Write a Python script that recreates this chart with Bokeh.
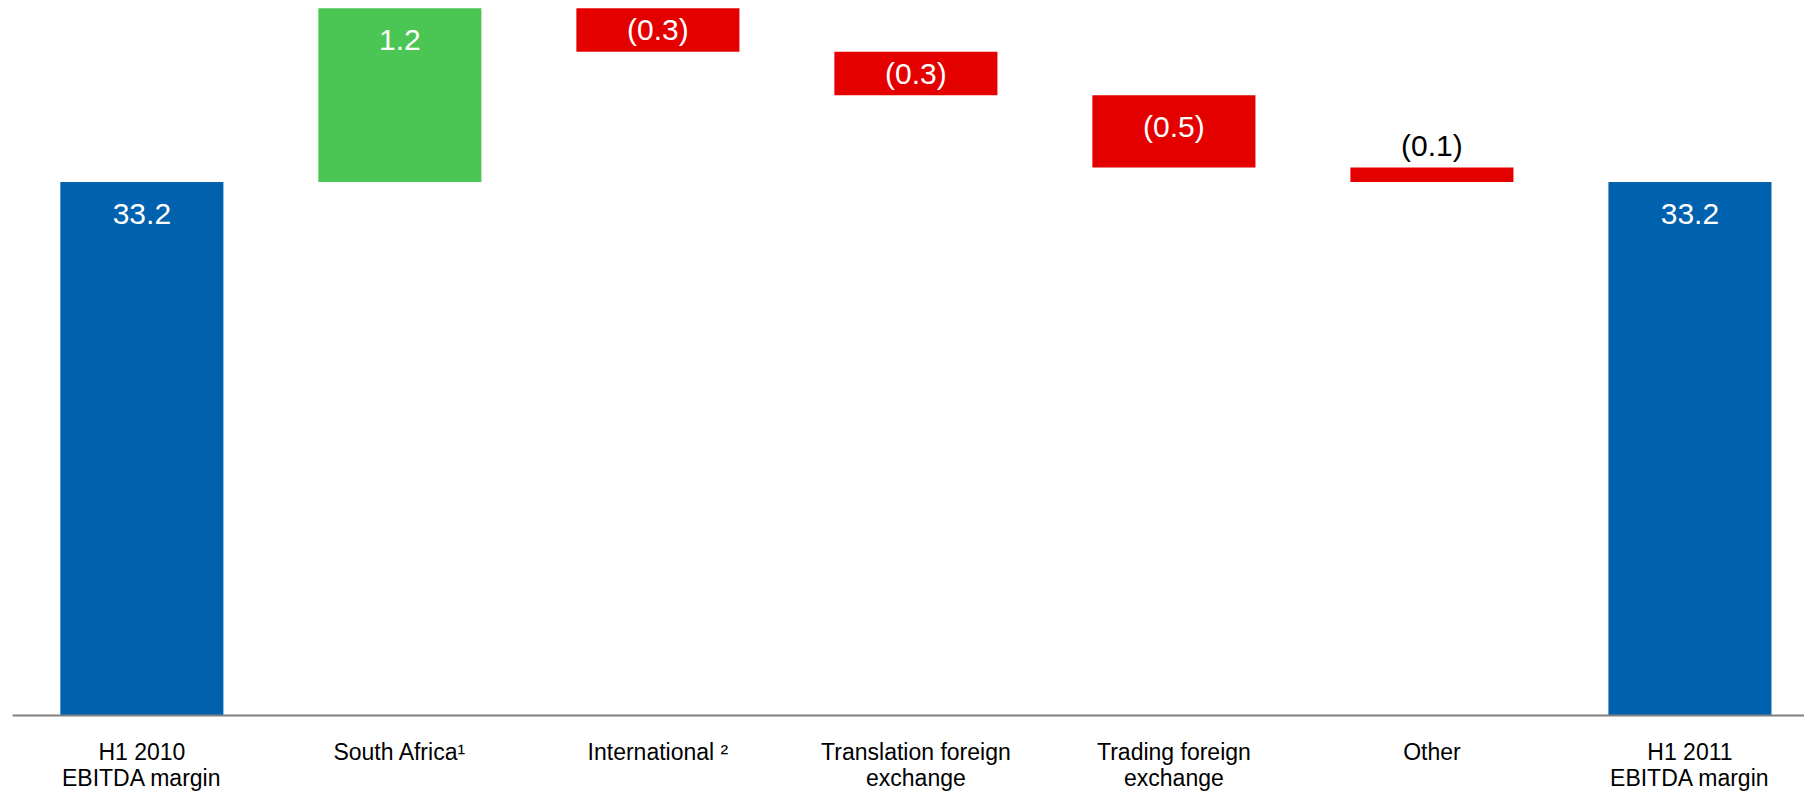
from bokeh.plotting import figure
from bokeh.models import ColumnDataSource, FixedTicker, Range1d
from bokeh.core.properties import value
from bokeh.embed import file_html
from bokeh.resources import INLINE

# ---- data ----
categories = [
    "H1 2010\nEBITDA margin",
    "South Africa\u00b9",
    "International \u00b2",
    "Translation foreign\nexchange",
    "Trading foreign\nexchange",
    "Other",
    "H1 2011\nEBITDA margin",
]
values = [33.2, 1.2, -0.3, -0.3, -0.5, -0.1, 33.2]
kinds = ["total", "delta", "delta", "delta", "delta", "delta", "total"]
value_labels = ["33.2", "1.2", "(0.3)", "(0.3)", "(0.5)", "(0.1)", "33.2"]

# ---- styling ----
BLUE = "#0061AE"
GREEN = "#4BC553"
RED = "#E50000"
FONT = "Liberation Sans"

Y_START, Y_END = 29.52, 34.453
FRAME_H = 715
px_per_unit = FRAME_H / (Y_END - Y_START)

# ---- waterfall geometry derived from data ----
xs, bottoms, tops, colors = [], [], [], []
lab_y, lab_col = [], []
running = 0.0
for i, (v, k) in enumerate(zip(values, kinds)):
    xs.append(i)
    if k == "total":
        b, t = 0.0, v
        running = v
        c = BLUE
    else:
        b, t = (running, running + v) if v >= 0 else (running + v, running)
        running += v
        c = GREEN if v >= 0 else RED
    bottoms.append(b)
    tops.append(t)
    colors.append(c)
    h_px = (t - max(b, Y_START)) * px_per_unit
    if h_px < 25:
        lab_y.append(t + 21.7 / px_per_unit)
        lab_col.append("#000000")
    else:
        lab_y.append(t - min(h_px / 2, 31.5) / px_per_unit)
        lab_col.append("#FFFFFF")

src = ColumnDataSource(dict(x=xs, bottom=bottoms, top=tops, color=colors,
                            ly=lab_y, lcol=lab_col, label=value_labels))

p = figure(width=1804, height=795, output_backend="svg", toolbar_location=None,
           x_range=Range1d(-0.5014, 6.444), y_range=Range1d(Y_START, Y_END),
           y_axis_location=None, min_border_left=12, min_border_right=0,
           min_border_top=0, min_border_bottom=80)
p.outline_line_color = None
p.xgrid.visible = False
p.ygrid.visible = False
p.background_fill_color = "white"
p.border_fill_color = "white"

p.vbar(x="x", bottom="bottom", top="top", width=0.632, color="color",
       line_color=None, source=src)
p.text(x="x", y="ly", text="label", text_color="lcol", source=src,
       text_align="center", text_baseline="middle",
       text_font=value(FONT), text_font_size="30px")

ax = p.xaxis[0]
ax.ticker = FixedTicker(ticks=list(range(len(categories))))
ax.major_label_overrides = {i: c for i, c in enumerate(categories)}
ax.major_tick_line_color = None
ax.minor_tick_line_color = None
ax.axis_line_color = "#808080"
ax.axis_line_width = 2
ax.major_label_text_font = FONT
ax.major_label_text_font_size = "23px"
ax.major_label_text_color = "#000000"
ax.major_label_text_line_height = 1.02
ax.major_label_standoff = 17

open("out.html", "w").write(file_html(p, INLINE))
